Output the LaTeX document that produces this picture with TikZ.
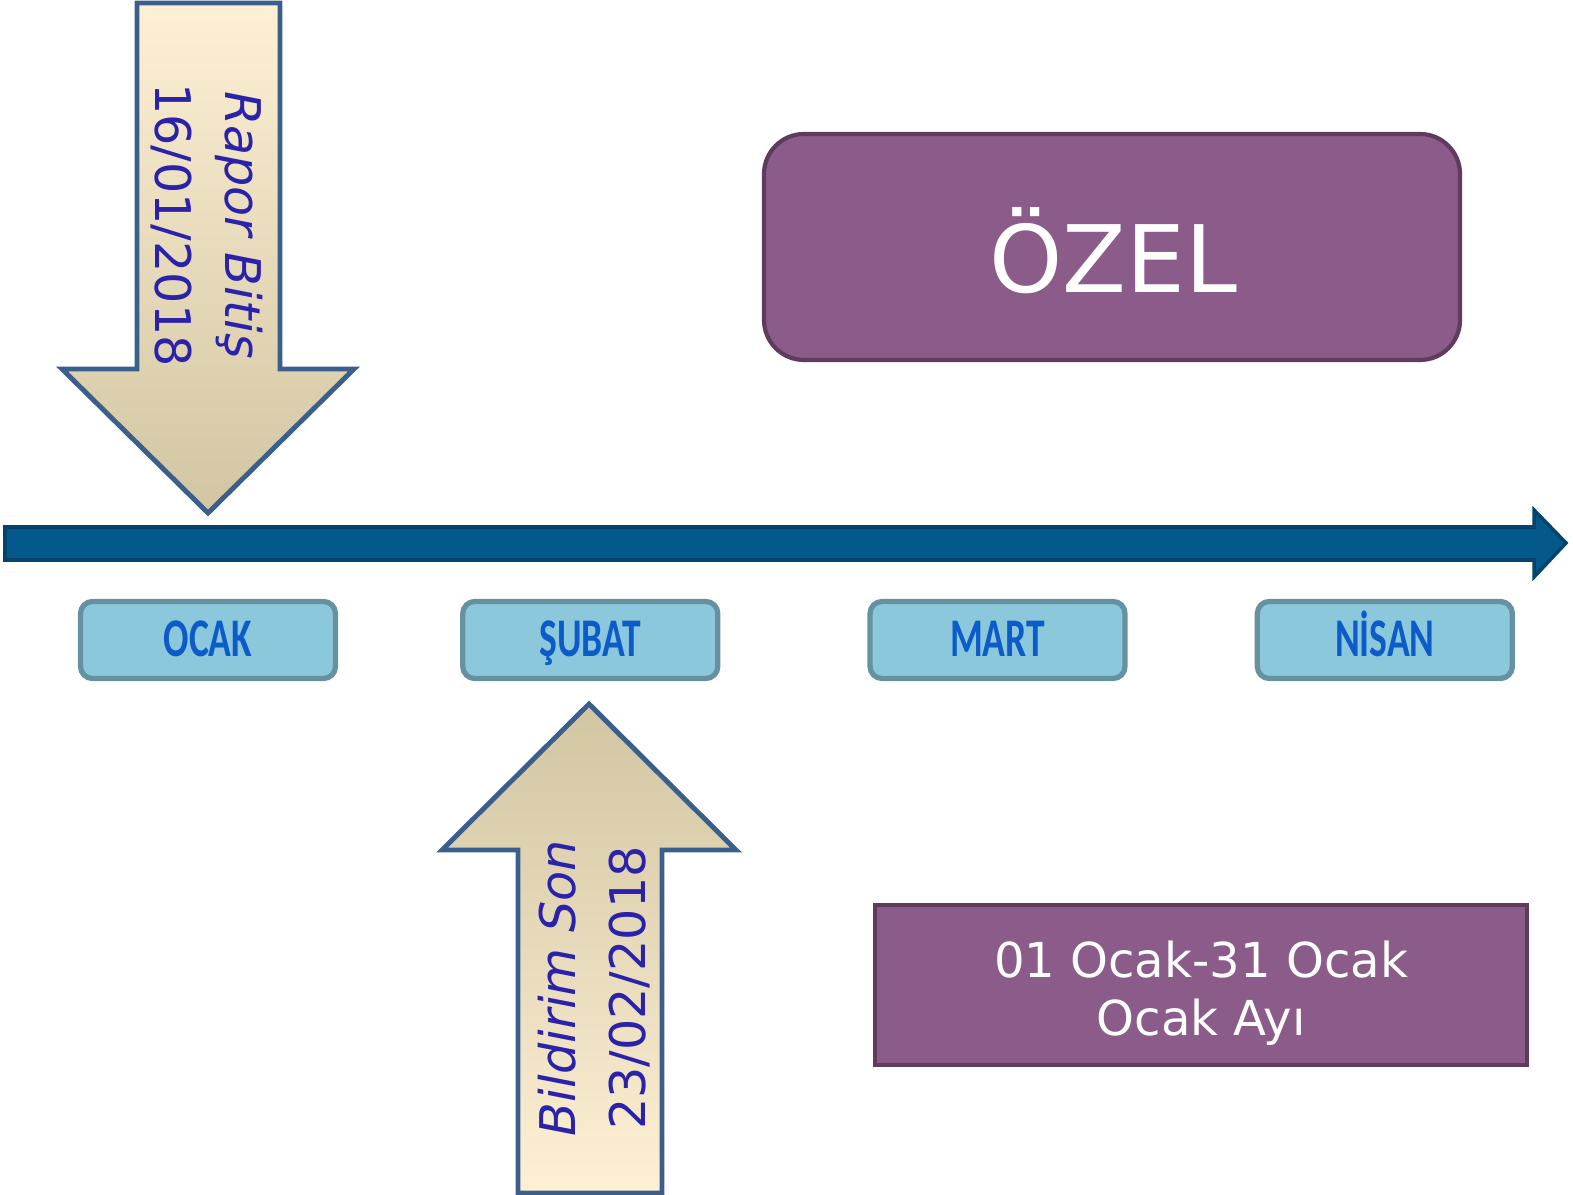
\documentclass[tikz,border=0pt]{standalone}
\usepackage{fontspec}
\setmainfont{DejaVu Sans}
\newfontfamily\monthfont{Carlito}
\usepackage{graphicx}
\usepackage{xcolor}
\usetikzlibrary{positioning}

\definecolor{lineblue}{HTML}{04588A}
\definecolor{lineblueedge}{HTML}{03446C}
\definecolor{boxfill}{HTML}{8CC8DC}
\definecolor{boxedge}{HTML}{6591A0}
\definecolor{monthtext}{HTML}{0B5BC8}
\definecolor{plum}{HTML}{8B5C8A}
\definecolor{plumedge}{HTML}{5F3B5E}
\definecolor{arrowedge}{HTML}{3A5F8C}
\definecolor{creamlight}{HTML}{FDF0D4}
\definecolor{creammid}{HTML}{EEE6CF}
\definecolor{creamdark}{HTML}{D2C5A2}
\definecolor{datetext}{HTML}{2A22AA}

\newcommand{\monthlabel}[1]{\scalebox{0.69}[1]{#1}}

\begin{document}
\begin{tikzpicture}[
    x=0.1mm, y={(0,-0.1mm)},
    monthbox/.style={rectangle, draw=boxedge, fill=boxfill, line width=1.5pt, rounded corners=0.12cm, minimum width=2.55cm, minimum height=0.77cm, text height=9.6pt, text depth=0pt, text=monthtext, font=\monthfont\bfseries\fontsize{15.5}{17}\selectfont},
    plumbox/.style={rectangle, draw=plumedge, fill=plum, line width=1.2pt, text=white, align=center},
    plumtext/.style={text=white, align=center},
    datearrow/.style={draw=arrowedge, line width=1.4pt, line join=miter},
    datelabel/.style={text=datetext, align=center, font=\fontsize{14}{20}\selectfont},
    timeline/.style={draw=lineblueedge, fill=lineblue, line width=1pt}
]
\useasboundingbox (0,0) rectangle (1573,1195);

% time axis
\draw[timeline] (5,527) -- (1534,527) -- (1534,510) -- (1566,543) -- (1534,577) -- (1534,560) -- (5,560) -- cycle;

% months
\node[monthbox] (ocak) at (208,640) {\monthlabel{OCAK}};
\node[monthbox, right=1.22cm of ocak] (subat) {\monthlabel{ŞUBAT}};
\node[monthbox, right=1.47cm of subat] (mart) {\monthlabel{MART}};
\node[monthbox, right=1.27cm of mart] (nisan) {\monthlabel{NİSAN}};

% report end
\draw[datearrow, top color=creamlight, middle color=creammid, bottom color=creamdark]
  (137,3) -- (280,3) -- (280,369) -- (354,369) -- (208,513) -- (62,369) -- (137,369) -- cycle;
\node[datelabel, rotate=-90] (rapor) at (207,225) {\textit{Rapor Bitiş}\\16/01/2018};

% notification deadline
\draw[datearrow, top color=creamdark, middle color=creammid, bottom color=creamlight]
  (589,704) -- (736,850) -- (662,850) -- (662,1193) -- (518,1193) -- (518,850) -- (442,850) -- cycle;
\node[datelabel, rotate=90] (bildirim) at (594,988) {\textit{Bildirim Son}\\23/02/2018};

% period boxes
\node[plumbox, rounded corners=0.4cm, minimum width=6.96cm, minimum height=2.26cm] (ozel) at (1112,247) {};
\node[plumtext, font=\fontsize{26.5}{32}\selectfont] (ozeltext) at ([xshift=0.01cm, yshift=-0.04cm]ozel.center) {ÖZEL};
\node[plumbox, minimum width=6.52cm, minimum height=1.6cm] (donem) at (1201,985) {};
\node[plumtext, font=\fontsize{13.7}{16.5}\selectfont] (donemtext) at ([yshift=-0.08cm]donem.center) {01 Ocak-31 Ocak\\Ocak Ayı};

\end{tikzpicture}
\end{document}
